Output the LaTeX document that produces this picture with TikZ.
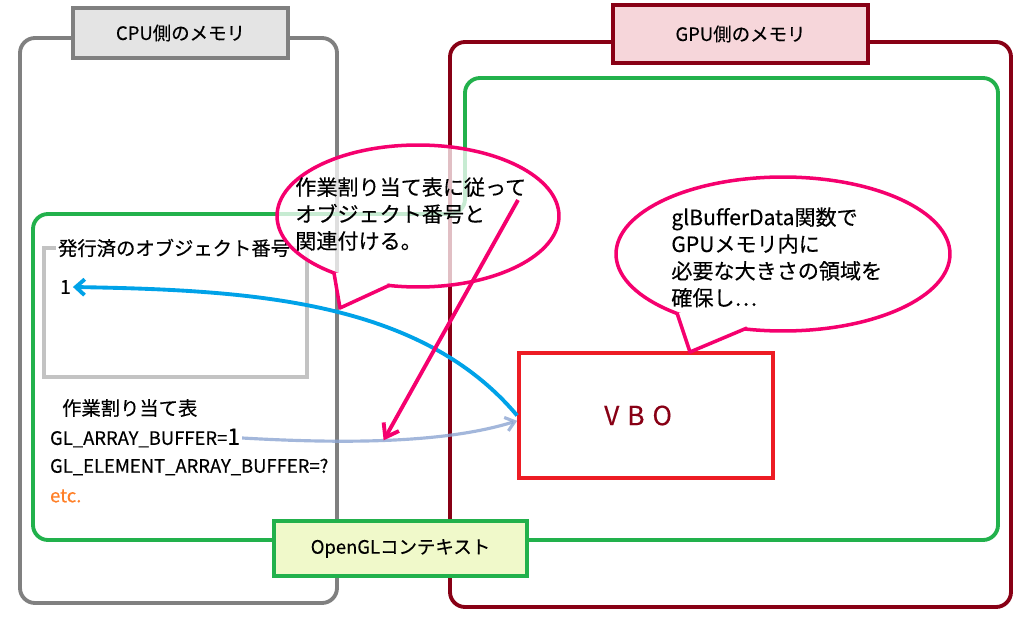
\documentclass[tikz,border=0pt]{standalone}
\usepackage{fontspec}
\setmainfont{Noto Sans CJK JP}[FakeBold=0.35]
\usepackage{tikz}
\usetikzlibrary{positioning,shapes.geometric,arrows.meta}

\definecolor{memgray}{RGB}{128,128,128}
\definecolor{taggray}{RGB}{228,228,228}
\definecolor{gpured}{RGB}{136,0,21}
\definecolor{tagpink}{RGB}{246,214,218}
\definecolor{ctxgreen}{RGB}{34,177,76}
\definecolor{ctxfill}{RGB}{240,249,202}
\definecolor{idgray}{RGB}{195,195,195}
\definecolor{vbored}{RGB}{237,28,36}
\definecolor{bubpink}{RGB}{245,0,110}
\definecolor{idblue}{RGB}{0,162,232}
\definecolor{sketchblue}{RGB}{140,165,210}
\definecolor{etcorange}{RGB}{255,127,39}

\begin{document}
\begin{tikzpicture}[x=0.02cm,y=-0.02cm,
  memline/.style={line width=2.2pt,rounded corners=0.3cm},
  tag/.style={draw,line width=2.2pt,inner sep=0pt,font=\fontsize{10.5}{12}\selectfont},
  plain/.style={anchor=west,inner sep=1pt,font=\fontsize{10.5}{12}\selectfont},
  bubble/.style={ellipse,draw=bubpink,line width=2pt,fill=white,fill opacity=0.75,inner sep=0pt},
  bubtext/.style={anchor=north west,align=left,inner sep=0pt,font=\fontsize{12}{15.3}\selectfont},
  tail/.style={draw=bubpink,line width=2pt,line join=round}]
\useasboundingbox (0,0) rectangle (1032,622);

\draw[memline,draw=memgray] (20,38) rectangle (337,603);
\draw[memline,draw=gpured] (450,42) rectangle (1011,607);
\draw[memline,draw=ctxgreen] (33,214) -- (465,214) -- (465,78) -- (998,78)
  -- (998,540) -- (33,540) -- cycle;

\node[tag,draw=memgray,fill=taggray,minimum width=4.3cm,minimum height=1cm] (cputag) at (180.5,33) {CPU側のメモリ};
\node[tag,draw=gpured,fill=tagpink,minimum width=5.1cm,minimum height=1.16cm] (gputag) at (740.5,34) {GPU側のメモリ};
\node[tag,draw=ctxgreen,fill=ctxfill,minimum width=5.06cm,minimum height=1.1cm] (ctxtag) at (400.5,548.5) {OpenGLコンテキスト};

\draw[line width=2.2pt,draw=idgray] (44,248) rectangle (307,377);
\node[plain,fill=white,font=\fontsize{11}{13}\selectfont] (idtitle) at (56,248) {発行済のオブジェクト番号};
\node[plain,font=\fontsize{11}{13}\selectfont] (idone) at (58,287) {1};

\node[plain,font=\fontsize{11}{13}\selectfont] (tbltitle) at (60,408) {作業割り当て表};
\node[plain] (rowarray) at (48,438) {GL\_ARRAY\_BUFFER={\fontsize{13}{13}\selectfont 1}};
\node[plain] (rowelem) at (48,467) {GL\_ELEMENT\_ARRAY\_BUFFER=?};
\node[plain,text=etcorange] (rowetc) at (48,496) {etc.};

\node[draw=vbored,line width=2.2pt,minimum width=5.08cm,minimum height=2.5cm,text=gpured,
  font=\fontsize{15}{15}\selectfont] (vbo) at (646,415.5) {\hspace{-0.6em}V\hspace{0.3em}B\hspace{0.3em}O};

\node[bubble,minimum width=5.64cm,minimum height=2.84cm] (bubmap) at (418,216) {};
\fill[white] (334,273) -- (340,308) -- (390,285) -- (362,270) -- cycle;
\draw[tail] (334,273) -- (340,308) -- (390,285);
\node[bubtext] (maptext) at (295,177) {作業割り当て表に従って\\オブジェクト番号と\\関連付ける。};

\node[bubble,minimum width=6.68cm,minimum height=3.08cm] (bubvbo) at (783,254) {};
\fill[white] (677,313) -- (690,352) -- (747,328) -- (712,312) -- cycle;
\draw[tail] (677,313) -- (690,352) -- (747,328);
\node[bubtext] (vbotext) at (671,207) {glBufferData関数で\\GPUメモリ内に\\必要な大きさの領域を\\確保し…};

\draw[sketchblue,opacity=0.8,line width=1.8pt,-{Straight Barb[length=5pt,width=8pt]}]
  (rowarray.east) .. controls (330,443) and (440,445) .. ([yshift=-3pt]vbo.west)
  coordinate[pos=0.5] (mapto);
\draw[idblue,line width=2.2pt,-{Straight Barb[length=5pt,width=9pt]}]
  (vbo.west) .. controls (420,300) and (250,290) .. (idone.east);
\coordinate (mapfrom) at (518,200);
\draw[bubpink,line width=2.2pt,-{Straight Barb[length=7pt,width=10pt]}] (mapfrom) -- (mapto);
\end{tikzpicture}
\end{document}
